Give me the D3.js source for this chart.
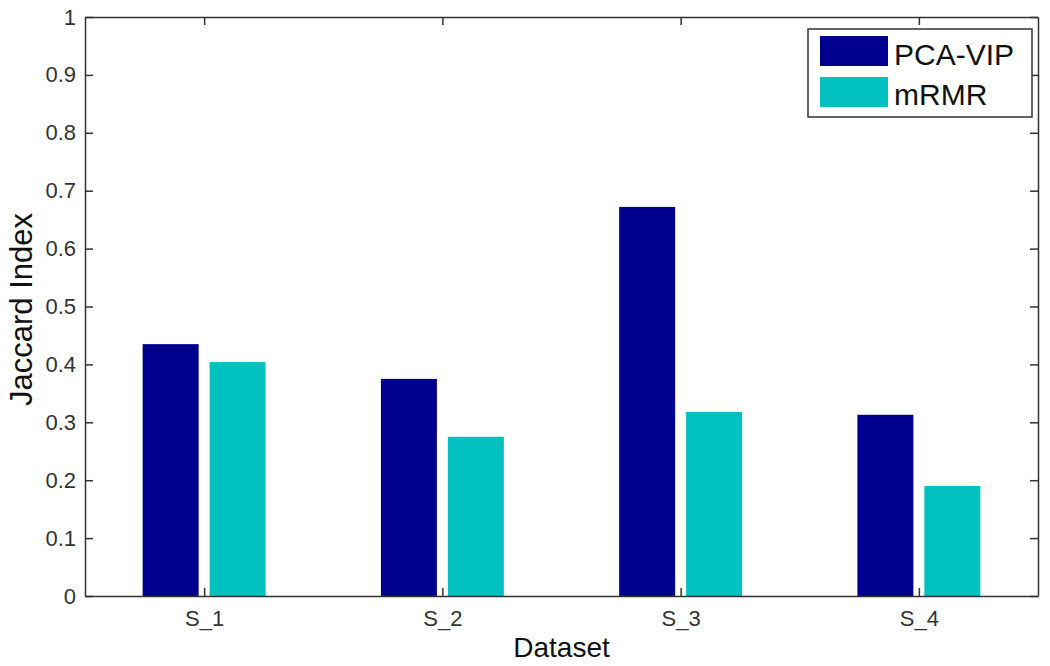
<!DOCTYPE html>
<html>
<head>
<meta charset="utf-8">
<script src="https://cdnjs.cloudflare.com/ajax/libs/d3/7.8.5/d3.min.js"></script>
<style>
  body { margin: 0; background: #fff; }
  svg { font-family: "Liberation Sans", Arial, sans-serif; }
</style>
</head>
<body>
<svg id="chart" width="1050" height="666"></svg>
<script>
// data
const categories = ['S_1', 'S_2', 'S_3', 'S_4'];
const seriesNames = ['PCA-VIP', 'mRMR'];
const pcaVip = [0.435, 0.375, 0.672, 0.313];
const mrmr = [0.404, 0.275, 0.318, 0.190];
const yTicks = [0, 0.1, 0.2, 0.3, 0.4, 0.5, 0.6, 0.7, 0.8, 0.9, 1];
const colors = ['#00008f', '#00c0c0'];

const svg = d3.select('#chart');
const margin = { left: 85, right: 12, top: 17, bottom: 70 };
const width = 1050 - margin.left - margin.right;
const height = 666 - margin.top - margin.bottom;

const g = svg.append('g').attr('transform', `translate(${margin.left},${margin.top})`);

// matlab style: categories at 1..n, limits 0.5..n+0.5
const x = d3.scaleLinear().domain([0.5, categories.length + 0.5]).range([0, width]);
const y = d3.scaleLinear().domain([0, 1]).range([height, 0]);

const barW = 0.235;
const gap = 0.046;
const series = [pcaVip, mrmr];

series.forEach((vals, si) => {
  g.append('g')
    .selectAll('rect')
    .data(vals)
    .join('rect')
    .attr('x', (d, i) => si === 0 ? x(i + 1 - gap / 2 - barW) : x(i + 1 + gap / 2))
    .attr('y', d => y(d))
    .attr('width', x(barW) - x(0))
    .attr('height', d => height - y(d))
    .attr('fill', colors[si]);
});

// axes with inward ticks
const tickLen = 8;
const xAxis = d3.axisBottom(x).tickValues(d3.range(1, categories.length + 1))
  .tickFormat((d, i) => categories[i]).tickSizeInner(-tickLen).tickSizeOuter(0).tickPadding(14);
const yAxis = d3.axisLeft(y).tickValues(yTicks).tickFormat(d3.format('')).tickSizeInner(-tickLen).tickSizeOuter(0).tickPadding(9);

const xa = g.append('g').attr('transform', `translate(0,${height})`).call(xAxis);
const ya = g.append('g').call(yAxis);
const xt = g.append('g').call(d3.axisTop(x).tickValues(d3.range(1, categories.length + 1)).tickFormat('').tickSizeInner(-tickLen).tickSizeOuter(0));
const yr = g.append('g').attr('transform', `translate(${width},0)`).call(d3.axisRight(y).tickValues(yTicks).tickFormat('').tickSizeInner(-tickLen).tickSizeOuter(0));

[xa, ya, xt, yr].forEach(a => {
  a.select('.domain').attr('stroke', '#333').attr('stroke-width', 1.5);
  a.selectAll('.tick line').attr('stroke', '#333').attr('stroke-width', 1.5);
  a.selectAll('.tick text').attr('font-size', 22).attr('fill', '#333')
    .attr('font-family', '"Liberation Sans", Arial, sans-serif');
});

// axis labels
g.append('text')
  .attr('x', width / 2)
  .attr('y', height + 61)
  .attr('text-anchor', 'middle')
  .attr('font-size', 28)
  .attr('fill', '#111')
  .text('Dataset');

g.append('text')
  .attr('transform', `translate(${-53},${height / 2 + 3}) rotate(-90)`)
  .attr('text-anchor', 'middle')
  .attr('font-size', 31)
  .attr('fill', '#111')
  .text('Jaccard Index');

// legend
const lg = g.append('g').attr('transform', `translate(${width - 230},12)`);
lg.append('rect')
  .attr('width', 224).attr('height', 88)
  .attr('fill', '#fff').attr('stroke', '#333').attr('stroke-width', 1.5);
seriesNames.forEach((name, i) => {
  lg.append('rect')
    .attr('x', 12).attr('y', 7 + i * 41)
    .attr('width', 68).attr('height', 30)
    .attr('fill', colors[i]);
  lg.append('text')
    .attr('x', 86).attr('y', 36 + i * 40)
    .attr('font-size', 30)
    .attr('fill', '#111')
    .text(name);
});
</script>
</body>
</html>
